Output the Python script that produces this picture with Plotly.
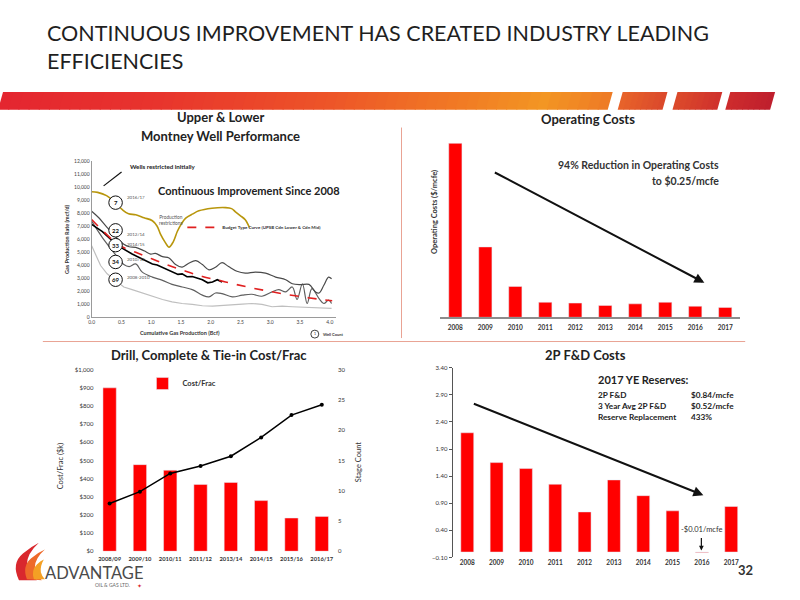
import plotly.graph_objects as go

# ---------------- DATA ----------------
# Panel 1: Upper & Lower Montney well performance (Bcf vs mcf/d)
gold_x = [0.00, 0.10, 0.25, 0.40, 0.52, 0.62, 0.74, 0.88, 1.02, 1.10, 1.16, 1.23, 1.30, 1.37, 1.44, 1.51, 1.58, 1.70, 1.80, 2.02, 2.25, 2.35, 2.41, 2.50, 2.58, 2.65]
gold_y = [9650, 9600, 9350, 8800, 8250, 7950, 7880, 7650, 7420, 7000, 6350, 5800, 5390, 5800, 6610, 7200, 7620, 7950, 8180, 8380, 8430, 8350, 8130, 7800, 7500, 6900]

g22_x = [0.00, 0.12, 0.24, 0.35, 0.46, 0.54, 0.63, 0.74, 0.88, 0.99, 1.07, 1.19, 1.30, 1.41, 1.52, 1.63, 1.75, 1.86, 1.97, 2.08, 2.19, 2.30, 2.44, 2.58, 2.75, 2.92, 3.09, 3.26, 3.37, 3.51, 3.65, 3.76, 3.82, 3.90, 3.98, 4.03]
g22_y = [8150, 7650, 7010, 6430, 5920, 5620, 5420, 5370, 5110, 4860, 4910, 4660, 4560, 4050, 3850, 4150, 4350, 4050, 3650, 3850, 4200, 3900, 3540, 3390, 3470, 3390, 3090, 2890, 2580, 2510, 2530, 1950, 1870, 2460, 3090, 2960]

blk_x = [0.00, 0.10, 0.18, 0.29, 0.40, 0.51, 0.60, 0.68, 0.85, 1.02, 1.10, 1.19, 1.35, 1.45, 1.52, 1.60, 1.69, 1.86, 1.95, 2.03, 2.11, 2.19]
blk_y = [7140, 6800, 6580, 6130, 5670, 5320, 5050, 4860, 4480, 4100, 4020, 3850, 3540, 3300, 3340, 3120, 3140, 2890, 2650, 2710, 2890, 2710]

g34_x = [0.00, 0.18, 0.35, 0.46, 0.54, 0.63, 0.74, 0.85, 1.02, 1.19, 1.35, 1.52, 1.69, 1.86, 1.97, 2.08, 2.19, 2.36, 2.53, 2.69, 2.86, 3.03, 3.14, 3.26, 3.37, 3.45, 3.54, 3.62, 3.70, 3.82, 3.90, 3.98, 4.03]
g34_y = [7390, 6130, 5110, 4480, 4050, 3900, 4100, 3470, 3090, 2840, 2530, 2330, 2130, 1700, 1570, 1870, 1820, 1570, 1700, 1770, 1620, 1950, 2130, 1950, 2330, 1370, 2580, 1060, 2200, 1440, 1060, 1320, 1060]

g69_x = [0.00, 0.07, 0.15, 0.26, 0.40, 0.54, 0.68, 0.85, 1.02, 1.19, 1.35, 1.52, 1.69, 1.86, 2.03, 2.19, 2.36, 2.53, 2.69, 2.86, 3.03, 3.20, 3.37, 3.59, 3.82, 4.03]
g69_y = [5490, 4730, 3980, 3340, 2840, 2330, 2130, 1870, 1570, 1370, 1190, 1060, 990, 890, 860, 890, 960, 1010, 1060, 990, 810, 860, 810, 760, 730, 680]

type_x = [0.00, 0.18, 0.40, 0.51, 0.74, 1.02, 1.30, 1.58, 1.86, 2.14, 2.42, 2.70, 2.98, 3.26, 3.54, 3.82, 4.04]
type_y = [7520, 6680, 5750, 5420, 4990, 4480, 3980, 3540, 3140, 2840, 2530, 2250, 2000, 1770, 1570, 1390, 1270]

well_counts = ["7", "22", "33", "34", "69"]
well_years = ["2016/17", "2012/14", "2014/15", "2010/12", "2008-2010"]

# Panel 2: Operating costs ($/mcfe)
op_years = ["2008", "2009", "2010", "2011", "2012", "2013", "2014", "2015", "2016", "2017"]
op_costs = [4.40, 1.78, 0.78, 0.38, 0.36, 0.30, 0.34, 0.38, 0.28, 0.25]

# Panel 3: Drill, complete & tie-in cost per frac ($k) and stage count
frac_years = ["2008/09", "2009/10", "2010/11", "2011/12", "2013/14", "2014/15", "2015/16", "2016/17"]
cost_per_frac = [900, 477, 446, 368, 379, 279, 183, 192]
stage_count = [7.9, 9.85, 12.85, 14.1, 15.7, 18.8, 22.5, 24.2]

# Panel 4: 2P F&D costs ($/mcfe)
fd_years = ["2008", "2009", "2010", "2011", "2012", "2013", "2014", "2015", "2016", "2017"]
fd_costs = [2.20, 1.65, 1.54, 1.25, 0.74, 1.33, 1.04, 0.76, -0.01, 0.84]

reserve_labels = ["2P F&D", "3 Year Avg 2P F&D", "Reserve Replacement"]
reserve_values = ["$0.84/mcfe", "$0.52/mcfe", "433%"]

# ---------------- HELPERS ----------------
W, H = 800, 600
def X(p): return p / W
def Y(p): return 1 - p / H

FONT = "Lato, 'Open Sans', sans-serif"
RED = "#FF0000"
TXT = "#333333"

fig = go.Figure()

# ---- Panel 1 traces ----
fig.add_trace(go.Scatter(x=g69_x, y=g69_y, mode="lines", line=dict(color="#BFBFBF", width=1.2),
                         xaxis="x", yaxis="y", showlegend=False))
fig.add_trace(go.Scatter(x=g34_x, y=g34_y, mode="lines", line=dict(color="#5f5f5f", width=1.2, shape="spline"),
                         xaxis="x", yaxis="y", showlegend=False))
fig.add_trace(go.Scatter(x=g22_x, y=g22_y, mode="lines", line=dict(color="#4a4a4a", width=1.2, shape="spline"),
                         xaxis="x", yaxis="y", showlegend=False))
fig.add_trace(go.Scatter(x=blk_x, y=blk_y, mode="lines", line=dict(color="#000000", width=1.6),
                         xaxis="x", yaxis="y", showlegend=False))
fig.add_trace(go.Scatter(x=gold_x, y=gold_y, mode="lines", line=dict(color="#B8960C", width=1.6, shape="spline"),
                         xaxis="x", yaxis="y", showlegend=False))
fig.add_trace(go.Scatter(x=type_x, y=type_y, mode="lines", line=dict(color="#E02020", width=1.6, dash="dash", shape="spline"),
                         xaxis="x", yaxis="y", name="Budget Type Curve (UPSB Cdn Lower & Cdn Mid)",
                         legend="legend2", showlegend=True))

# ---- Panel 2 ----
fig.add_trace(go.Bar(x=op_years, y=op_costs, marker=dict(color=RED), xaxis="x2", yaxis="y2", showlegend=False))

# ---- Panel 3 ----
fig.add_trace(go.Bar(x=frac_years, y=cost_per_frac, marker=dict(color=RED), xaxis="x3", yaxis="y3",
                     name="Cost/Frac", showlegend=True, legend="legend"))
fig.add_trace(go.Scatter(x=frac_years, y=stage_count, mode="lines+markers",
                         line=dict(color="#000000", width=1.5), marker=dict(size=4, color="#000000"),
                         xaxis="x3", yaxis="y4", showlegend=False))

# ---- Panel 4 ----
fig.add_trace(go.Bar(x=fd_years, y=fd_costs, marker=dict(color=RED), xaxis="x4", yaxis="y5", showlegend=False))

tickf = dict(family=FONT, size=6, color=TXT)
tickfb = dict(family=FONT, size=6.5, color=TXT, weight="bold")
tickfb3 = dict(family=FONT, size=5.8, color=TXT, weight="bold")

fig.update_layout(
    width=W, height=H, margin=dict(l=0, r=0, t=0, b=0),
    paper_bgcolor="white", plot_bgcolor="rgba(0,0,0,0)",
    font=dict(family=FONT, color=TXT),
    bargap=0.56,
    xaxis=dict(domain=[X(89), X(334)], range=[0, 4.1], anchor="y", tickvals=[0, 0.5, 1, 1.5, 2, 2.5, 3, 3.5, 4],
               tickformat=".1f", tickfont=dict(family=FONT, size=5, color="#444"), showgrid=False, zeroline=False,
               showline=True, linecolor="#9a9a9a", linewidth=1, ticks=""),
    yaxis=dict(domain=[Y(317), Y(159)], range=[0, 12000], anchor="x", dtick=1000, tickformat=",",
               tickfont=dict(family=FONT, size=5, color="#444"), showgrid=False, zeroline=False,
               showline=True, linecolor="#9a9a9a", linewidth=1, ticks=""),
    xaxis2=dict(domain=[X(439), X(740)], anchor="y2", type="category", tickfont=tickfb, showgrid=False,
                showline=True, linecolor="#8c8c8c", linewidth=1.5, ticks="", ticklabelstandoff=3),
    yaxis2=dict(domain=[Y(317), Y(133)], range=[0, 4.6], anchor="x2", visible=False, showgrid=False),
    xaxis3=dict(domain=[X(91.8), X(335.2)], anchor="y3", type="category", tickfont=tickfb3, showgrid=False,
                showline=False, ticks="", ticklabelstandoff=3),
    yaxis3=dict(domain=[Y(553.7), Y(370)], range=[0, 1000], anchor="x3", dtick=100, tickprefix="$", tickformat=",",
                tickfont=tickf, showgrid=False, zeroline=False, showline=False, ticks=""),
    yaxis4=dict(range=[0, 30], overlaying="y3", side="right", anchor="x3", dtick=5, tickfont=tickf,
                showgrid=False, zeroline=False, showline=False, ticks=""),
    xaxis4=dict(domain=[X(451.3), X(745.7)], anchor="y5", type="category", tickfont=tickfb, showgrid=False,
                showline=False, ticks=""),
    yaxis5=dict(domain=[Y(560), Y(368)], range=[-0.1, 3.4], anchor="x4", tick0=-0.1, dtick=0.5, tickformat=".2f",
                tickfont=tickf, showgrid=False, zeroline=False, showline=True, linecolor="#555555", linewidth=1,
                ticks="outside", ticklen=3, tickcolor="#555555"),
    legend=dict(x=X(140), y=Y(384), xanchor="left", yanchor="middle", bgcolor="rgba(0,0,0,0)",
                font=dict(family=FONT, size=7.5, color=TXT, weight="bold"), itemwidth=30),
    legend2=dict(x=X(180), y=Y(226), xanchor="left", yanchor="middle", bgcolor="rgba(0,0,0,0)",
                 font=dict(family=FONT, size=4.5, color="#333", weight="bold"), itemwidth=30),
)

shapes = []
annotations = []

# ---- header gradient band ----
def lerp_color(stops, p):
    for i in range(len(stops) - 1):
        a, ca = stops[i]
        b, cb = stops[i + 1]
        if a <= p <= b:
            t = (p - a) / (b - a) if b > a else 0
            c = [round(ca[k] + (cb[k] - ca[k]) * t) for k in range(3)]
            return "rgb(%d,%d,%d)" % tuple(c)
    return "rgb(%d,%d,%d)" % stops[-1][1]

band_stops = [(0, (228, 38, 48)), (160, (232, 52, 45)), (330, (237, 85, 40)), (470, (241, 125, 36)),
              (545, (243, 150, 35)), (612, (238, 122, 37))]

def para(a, b, color, top=89, bot=107, slant=5):
    return dict(type="path", xref="paper", yref="paper", line=dict(width=0), fillcolor=color, layer="below",
                path=f"M {X(a)},{Y(top)} L {X(b)},{Y(top)} L {X(b - slant)},{Y(bot)} L {X(a - slant)},{Y(bot)} Z")

N = 60
step = 612 / N
for i in range(N):
    a = i * step
    b = min(612, (i + 1) * step + 1)
    shapes.append(para(a, b, lerp_color(band_stops, a + step / 2)))

pieces = [(622, 667, (232, 100, 42), (218, 72, 43)),
          (677, 722, (220, 75, 43), (207, 48, 44)),
          (730, 775, (206, 44, 45), (190, 30, 45))]
for a0, b0, c0, c1 in pieces:
    n = 8
    st = (b0 - a0) / n
    for i in range(n):
        a = a0 + i * st
        b = min(b0, a + st + 0.8)
        shapes.append(para(a, b, lerp_color([(a0, c0), (b0, c1)], a + st / 2)))

# dividers
shapes.append(dict(type="line", xref="paper", yref="paper", x0=X(400), x1=X(400), y0=Y(125), y1=Y(338),
                   line=dict(color="#E9A394", width=1)))
shapes.append(dict(type="line", xref="paper", yref="paper", x0=X(40), x1=X(745), y0=Y(341.5), y1=Y(341.5),
                   line=dict(color="#E9A394", width=1)))

# ---- main title ----
annotations.append(dict(text="CONTINUOUS IMPROVEMENT HAS CREATED INDUSTRY LEADING<br>EFFICIENCIES",
                        xref="paper", yref="paper", x=X(42), y=Y(44), xanchor="left", yanchor="middle",
                        align="left", showarrow=False,
                        font=dict(family=FONT, size=21.5, color="#1f1f1f")))

def txt(t, x, y, size, xa="center", bold=False, color=TXT, ya="middle", angle=0, align=None):
    d = dict(text=t, xref="paper", yref="paper", x=X(x), y=Y(y), xanchor=xa, yanchor=ya, showarrow=False,
             textangle=angle, font=dict(family=FONT, size=size, color=color, weight="bold" if bold else "normal"))
    if align:
        d["align"] = align
    annotations.append(d)

# panel titles
txt("Upper & Lower", 218, 114, 13, bold=True, color="#222")
txt("Montney Well Performance", 218, 134, 13, bold=True, color="#222")
txt("Operating Costs", 587, 116, 13, bold=True, color="#222")
txt("Drill, Complete & Tie-in Cost/Frac", 207, 355, 13, bold=True, color="#222")
txt("2P F&D Costs", 585, 355, 13, bold=True, color="#222")

# panel 1 texts
txt("Wells restricted initially", 125, 164, 6.2, xa="left", bold=True, color="#222")
shapes.append(dict(type="line", xref="paper", yref="paper", x0=X(101), y0=Y(184), x1=X(119), y1=Y(170),
                   line=dict(color="#111", width=1.2)))
txt("Continuous Improvement Since 2008", 247, 189, 11, bold=True, color="#222")
txt("Production<br>restrictions", 169, 219, 4.8, color="#555", align="center")
txt("Gas Production Rate (mcf/d)", 64, 238, 5.5, bold=True, color="#333", angle=-90)
txt("Cumulative Gas Production (Bcf)", 178, 333, 5.5, bold=True, color="#333")

circle_y = [201, 229, 244, 261, 279]
label_y = [196, 233, 243, 259, 277]
for n_, yr, cy, ly in zip(well_counts, well_years, circle_y, label_y):
    shapes.append(dict(type="circle", xref="paper", yref="paper", x0=X(113 - 6.8), x1=X(113 + 6.8),
                       y0=Y(cy + 6.8), y1=Y(cy - 6.8), fillcolor="white", line=dict(color="#111", width=1)))
    txt(n_, 113, cy, 6, bold=True, color="#111")
    txt(yr, 122, ly, 4.5, xa="left", color="#555")

shapes.append(dict(type="circle", xref="paper", yref="paper", x0=X(309), x1=X(317), y0=Y(338), y1=Y(330),
                   fillcolor="white", line=dict(color="#111", width=0.8)))
txt("1", 313, 334, 3.5, color="#111")
txt("Well Count", 319, 334, 4, xa="left", bold=True, color="#333")

# panel 2 texts
txt("Operating Costs ($/mcfe)", 433, 210, 7.5, color="#333", angle=-90, bold=True)
txt("94% Reduction in Operating Costs", 721, 163, 10.5, xa="right", bold=True, color="#333")
txt("to $0.25/mcfe", 721, 179, 10.5, xa="right", bold=True, color="#333")
annotations.append(dict(xref="paper", yref="paper", x=X(704), y=Y(282), ax=493 - 704, ay=171 - 282,
                        text="", showarrow=True, arrowhead=2, arrowsize=1, arrowwidth=2, arrowcolor="#111"))

# panel 3 texts
txt("Cost/Frac ($k)", 58, 467, 7.5, color="#333", angle=-90)
txt("Stage Count", 357, 463, 7.5, color="#333", angle=-90)

# panel 4 texts
txt("2017 YE Reserves:", 595, 380, 11, xa="left", bold=True, color="#222")
for lbl, val, yy in zip(reserve_labels, reserve_values, [396, 407, 418]):
    txt(lbl, 595, yy, 8.2, xa="left", bold=True, color="#222")
    txt(val, 689, yy, 8.2, xa="left", bold=True, color="#222")
annotations.append(dict(xref="paper", yref="paper", x=X(703), y=Y(497), ax=472 - 703, ay=405 - 497,
                        text="", showarrow=True, arrowhead=2, arrowsize=1, arrowwidth=2, arrowcolor="#111"))
txt("-$0.01/mcfe", 701, 532, 7.5, color="#333")
annotations.append(dict(xref="paper", yref="paper", x=X(701), y=Y(553), ax=0, ay=-14,
                        text="", showarrow=True, arrowhead=2, arrowsize=0.8, arrowwidth=1.2, arrowcolor="#111"))

# page number
txt("32", 745, 573, 13, bold=True, color="#333")

# ---- logo ----
def ppath(cmds):
    out = []
    for c in cmds:
        if isinstance(c, str):
            out.append(c)
        else:
            out.append(f"{X(c[0])},{Y(c[1])}")
    return " ".join(out)

flame_parts = [
    (["M", (16, 583), "Q", (8, 566), (20, 556), "Q", (28, 549), (36, 545), "Q", (24, 556), (24, 567),
      "Q", (25, 577), (34, 583), "Z"], "#D9282E"),
    (["M", (24, 582), "Q", (19, 569), (28, 561), "Q", (35, 555), (42, 552), "Q", (32, 561), (32, 570),
      "Q", (33, 578), (39, 583), "Z"], "#EE6A2A"),
    (["M", (31, 582), "Q", (28, 573), (34, 567), "Q", (38, 563), (41, 562), "Q", (37, 569), (38, 575),
      "Q", (39, 579), (42, 582), "Z"], "#F4A024"),
]
for cmds, col in flame_parts:
    shapes.append(dict(type="path", xref="paper", yref="paper", path=ppath(cmds), fillcolor=col,
                       line=dict(width=0)))
txt("ADVANTAGE", 40, 576, 16.5, xa="left", color="#4a4a4a")
txt("OIL & GAS LTD.", 90, 588, 5, xa="left", color="#666")
txt("✦", 137, 588, 6, color="#D9282E")

fig.update_layout(shapes=shapes, annotations=annotations)
fig.write_html("out.html", config={"displayModeBar": False},
               post_script="document.body.style.margin='0px';")
